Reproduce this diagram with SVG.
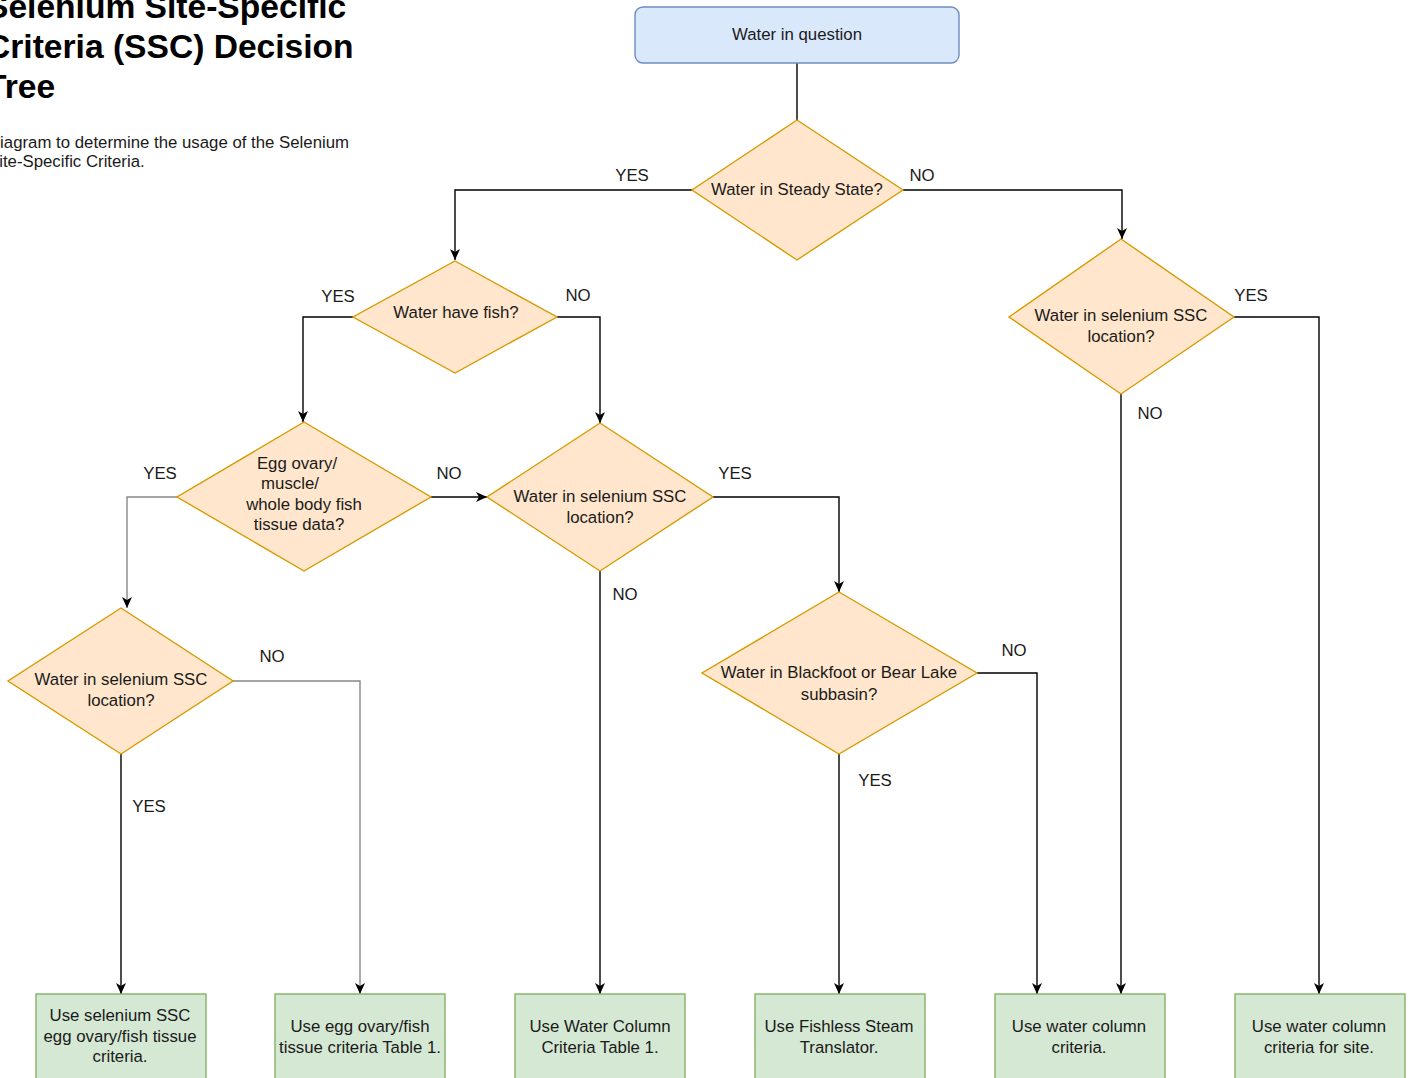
<svg xmlns="http://www.w3.org/2000/svg" width="1410" height="1078" viewBox="0 0 1410 1078">
<style>
  text { font-family: "Liberation Sans", Arial, sans-serif; font-size: 16.8px; fill: #1a1a1a; }
  .title { font-weight: bold; font-size: 33.6px; fill: #000; }
  .mid { text-anchor: middle; }
  .start { fill: #dae8fc; stroke: #6c8ebf; stroke-width: 1.4; }
  .dec { fill: #ffe6cc; stroke: #d79b00; stroke-width: 1.4; }
  .end { fill: #d5e8d4; stroke: #82b366; stroke-width: 1.4; }
  .edge { fill: none; stroke: #000; stroke-width: 1.4; }
  .gray { stroke: #888; }
</style>
<defs>
  <marker id="arrow" viewBox="0 0 11 10" refX="11" refY="5" markerWidth="11" markerHeight="10" markerUnits="userSpaceOnUse" orient="auto">
    <path d="M0,0 L11,5 L0,10 L3,5 Z" fill="#000"/>
  </marker>
</defs>
<rect width="1410" height="1078" fill="#fff"/>

<g id="title">
  <text class="title" x="-14" y="18">Selenium Site-Specific</text>
  <text class="title" x="-14" y="58">Criteria (SSC) Decision</text>
  <text class="title" x="-14" y="98">Tree</text>
  <text x="-12" y="148">Diagram to determine the usage of the Selenium</text>
  <text x="-12" y="167">Site-Specific Criteria.</text>
</g>

<g id="connectors">
  <path class="edge" d="M797,63 V120"/>
  <path class="edge" d="M692,190 H455 V260" marker-end="url(#arrow)"/>
  <path class="edge" d="M903,190 H1122 V239" marker-end="url(#arrow)"/>
  <path class="edge" d="M353,317 H303 V422" marker-end="url(#arrow)"/>
  <path class="edge" d="M557,317 H600 V423" marker-end="url(#arrow)"/>
  <path class="edge" d="M1234,317 H1319 V994" marker-end="url(#arrow)"/>
  <path class="edge" d="M1121,394 V994" marker-end="url(#arrow)"/>
  <path class="edge gray" d="M177,497 H127 V608" marker-end="url(#arrow)"/>
  <path class="edge" d="M431,497 H487" marker-end="url(#arrow)"/>
  <path class="edge" d="M713,497 H839 V592" marker-end="url(#arrow)"/>
  <path class="edge" d="M600,571 V994" marker-end="url(#arrow)"/>
  <path class="edge" d="M977,673 H1037 V994" marker-end="url(#arrow)"/>
  <path class="edge" d="M839,754 V994" marker-end="url(#arrow)"/>
  <path class="edge gray" d="M233,681 H360 V994" marker-end="url(#arrow)"/>
  <path class="edge" d="M121,754 V994" marker-end="url(#arrow)"/>
  <g id="edge-labels" class="mid">
    <text class="mid" x="632" y="181">YES</text>
    <text class="mid" x="922" y="181">NO</text>
    <text class="mid" x="338" y="302">YES</text>
    <text class="mid" x="578" y="301">NO</text>
    <text class="mid" x="1251" y="301">YES</text>
    <text class="mid" x="1150" y="419">NO</text>
    <text class="mid" x="160" y="479">YES</text>
    <text class="mid" x="449" y="479">NO</text>
    <text class="mid" x="735" y="479">YES</text>
    <text class="mid" x="625" y="600">NO</text>
    <text class="mid" x="272" y="662">NO</text>
    <text class="mid" x="1014" y="656">NO</text>
    <text class="mid" x="875" y="786">YES</text>
    <text class="mid" x="149" y="812">YES</text>
  </g>
</g>

<g id="n-water">
  <rect class="start" x="635" y="7" width="324" height="56" rx="8"/>
  <text class="mid" x="797" y="40">Water in question</text>
</g>

<g id="n-steady">
  <polygon class="dec" points="797,120 903,190 797,260 692,190"/>
  <text class="mid" x="797" y="195">Water in Steady State?</text>
</g>

<g id="n-fish">
  <polygon class="dec" points="455,261 557,317 455,373 353,317"/>
  <text class="mid" x="456" y="318">Water have fish?</text>
</g>

<g id="n-ssc-right">
  <polygon class="dec" points="1121,239 1234,317 1121,394 1009,317"/>
  <text class="mid" x="1121" y="321">Water in selenium SSC</text>
  <text class="mid" x="1121" y="342">location?</text>
</g>

<g id="n-tissue">
  <polygon class="dec" points="304,422 431,497 304,571 177,497"/>
  <text class="mid" x="297" y="469">Egg ovary/</text>
  <text class="mid" x="290" y="489">muscle/</text>
  <text class="mid" x="304" y="510">whole body fish</text>
  <text class="mid" x="299" y="530">tissue data?</text>
</g>

<g id="n-ssc-mid">
  <polygon class="dec" points="600,423 713,497 600,571 487,497"/>
  <text class="mid" x="600" y="502">Water in selenium SSC</text>
  <text class="mid" x="600" y="523">location?</text>
</g>

<g id="n-blackfoot">
  <polygon class="dec" points="839,592 977,673 839,754 702,673"/>
  <text class="mid" x="839" y="678">Water in Blackfoot or Bear Lake</text>
  <text class="mid" x="839" y="700">subbasin?</text>
</g>

<g id="n-ssc-left">
  <polygon class="dec" points="121,608 233,681 121,754 8,681"/>
  <text class="mid" x="121" y="685">Water in selenium SSC</text>
  <text class="mid" x="121" y="706">location?</text>
</g>

<g id="r-ssc-tissue">
  <rect class="end" x="36" y="994" width="170" height="120"/>
  <text class="mid" x="120" y="1021">Use selenium SSC</text>
  <text class="mid" x="120" y="1042">egg ovary/fish tissue</text>
  <text class="mid" x="120" y="1062">criteria.</text>
</g>

<g id="r-tissue-table">
  <rect class="end" x="275" y="994" width="170" height="120"/>
  <text class="mid" x="360" y="1032">Use egg ovary/fish</text>
  <text class="mid" x="360" y="1053">tissue criteria Table 1.</text>
</g>

<g id="r-wc-table">
  <rect class="end" x="515" y="994" width="170" height="120"/>
  <text class="mid" x="600" y="1032">Use Water Column</text>
  <text class="mid" x="600" y="1053">Criteria Table 1.</text>
</g>

<g id="r-fishless">
  <rect class="end" x="755" y="994" width="170" height="120"/>
  <text class="mid" x="839" y="1032">Use Fishless Steam</text>
  <text class="mid" x="839" y="1053">Translator.</text>
</g>

<g id="r-wc">
  <rect class="end" x="995" y="994" width="170" height="120"/>
  <text class="mid" x="1079" y="1032">Use water column</text>
  <text class="mid" x="1079" y="1053">criteria.</text>
</g>

<g id="r-wc-site">
  <rect class="end" x="1235" y="994" width="170" height="120"/>
  <text class="mid" x="1319" y="1032">Use water column</text>
  <text class="mid" x="1319" y="1053">criteria for site.</text>
</g>
</svg>
